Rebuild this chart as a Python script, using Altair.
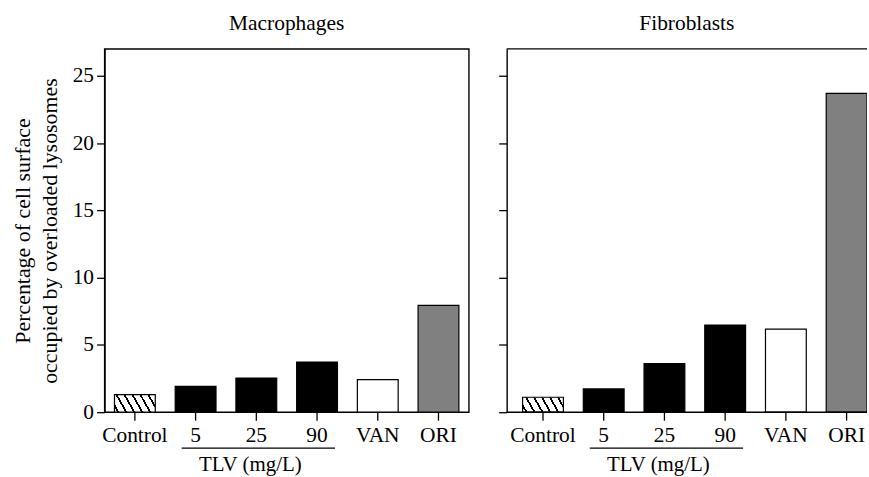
import altair as alt
import pandas as pd

categories = ["Control", "5", "25", "90", "VAN", "ORI"]
groups = ["control", "tlv", "tlv", "tlv", "van", "ori"]
macrophages = [1.31, 1.92, 2.54, 3.73, 2.42, 7.94]
fibroblasts = [1.11, 1.73, 3.62, 6.48, 6.18, 23.7]
y_ticks = [0, 5, 10, 15, 20, 25]
panel_titles = ["Macrophages", "Fibroblasts"]
tlv_start, tlv_end, tlv_mid = "5", "90", "25"
tlv_label = "TLV (mg/L)"
y_title = ["Percentage of cell surface", "occupied by overloaded lysosomes"]

FONT = "Liberation Serif, Times New Roman, Times, serif"
W, H, W2 = 366, 365, 362
YMAX = 27
FS = 21.5
YFS = 22
frame_edges = [0, YMAX]


def hatch(value):
    bar_w = 41.0
    bar_h = value * H / YMAX
    k = 0.57
    r = k * bar_h / bar_w
    s = (1 + r) / (1 + r * r)
    span = bar_w + k * bar_h
    spacing, lw = 8.0, 2.0
    stops = [alt.GradientStop(offset=0, color="white")]
    c = spacing / 2
    while c < span:
        a = max(0.0, (c - lw / 2) / span)
        b = min(1.0, (c + lw / 2) / span)
        stops += [alt.GradientStop(offset=a, color="white"),
                  alt.GradientStop(offset=a, color="black"),
                  alt.GradientStop(offset=b, color="black"),
                  alt.GradientStop(offset=b, color="white")]
        c += spacing
    stops.append(alt.GradientStop(offset=1, color="white"))
    return alt.Gradient(gradient="linear", stops=stops,
                        x1=0, y1=1, x2=s, y2=1 - s * r)


def panel(values, title, first, width):
    df = pd.DataFrame({"category": categories, "group": groups, "value": values})
    if first:
        xscale = alt.Scale(domain=categories, paddingInner=0.328, paddingOuter=0.164)
    else:
        xscale = alt.Scale(domain=categories, paddingInner=0.328, paddingOuter=0.131,
                           align=1)
    yscale = alt.Scale(domain=[0, YMAX], nice=False)
    xaxis = alt.Axis(title=None, labelAngle=0, domain=False, tickSize=8,
                     tickWidth=1.3, tickColor="black", labelPadding=4,
                     labelFont=FONT, labelFontSize=FS, labelColor="black")
    yaxis = alt.Axis(values=y_ticks, grid=False, tickSize=8, tickWidth=1.3,
                     tickColor="black", domainColor="black", domainWidth=1.4,
                     labels=first, labelFont=FONT, labelFontSize=FS,
                     labelColor="black", labelPadding=3,
                     title=y_title if first else None,
                     titleFont=FONT, titleFontSize=YFS, titleFontWeight="normal",
                     titleColor="black", titlePadding=11, titleLineHeight=27)
    x = alt.X("category:N", scale=xscale, sort=categories, axis=xaxis)
    y = alt.Y("value:Q", scale=yscale, axis=yaxis)
    base = alt.Chart(df)
    bars = base.transform_filter(alt.datum.group != "control").mark_bar(
        stroke="black", strokeWidth=1.2, clip=True).encode(
        x=x, y=y,
        color=alt.Color("group:N", scale=alt.Scale(domain=["tlv", "van", "ori"],
                        range=["#000000", "#ffffff", "#808080"]), legend=None))
    ctrl = base.transform_filter(alt.datum.group == "control").mark_bar(
        stroke="black", strokeWidth=1.2, fill=hatch(values[0])).encode(x=x, y=y)
    ann = pd.DataFrame({"start": [tlv_start], "end": [tlv_end],
                        "mid": [tlv_mid], "label": [tlv_label]})
    rule = alt.Chart(ann).mark_rule(color="black", strokeWidth=1.3,
                                    xOffset=-14, x2Offset=18).encode(
        x=alt.X("start:N", scale=xscale, axis=xaxis), x2="end:N",
        y=alt.value(H + 36))
    txt = alt.Chart(ann).mark_text(font=FONT, fontSize=21, color="black",
                                   baseline="middle", dx=-6).encode(
        x=alt.X("mid:N", scale=xscale, axis=xaxis), y=alt.value(H + 53),
        text="label:N")
    layers = [ctrl, bars, rule, txt]
    props = {}
    if not first:
        frame = alt.Chart(pd.DataFrame({"edge": frame_edges})).mark_rule(
            color="black", strokeWidth=1.4).encode(
            y=alt.Y("edge:Q", scale=yscale, axis=yaxis),
            x=alt.value(0), x2=alt.value(width))
        layers.append(frame)
        props["view"] = alt.ViewBackground(stroke="transparent")
    return alt.layer(*layers).properties(
        width=width, height=H,
        title=alt.TitleParams(title, font=FONT, fontSize=FS, fontWeight="normal",
                              color="black", offset=14), **props)


left = panel(macrophages, panel_titles[0], True, W)
right = panel(fibroblasts, panel_titles[1], False, W2)

chart = alt.hconcat(left, right, spacing=27).properties(
    padding={"left": 10, "top": 11, "right": 0, "bottom": 0}
).configure_view(stroke="black", strokeWidth=1.4).configure_concat(spacing=27)

chart.save("out.html", embed_options={"renderer": "svg", "actions": False})
